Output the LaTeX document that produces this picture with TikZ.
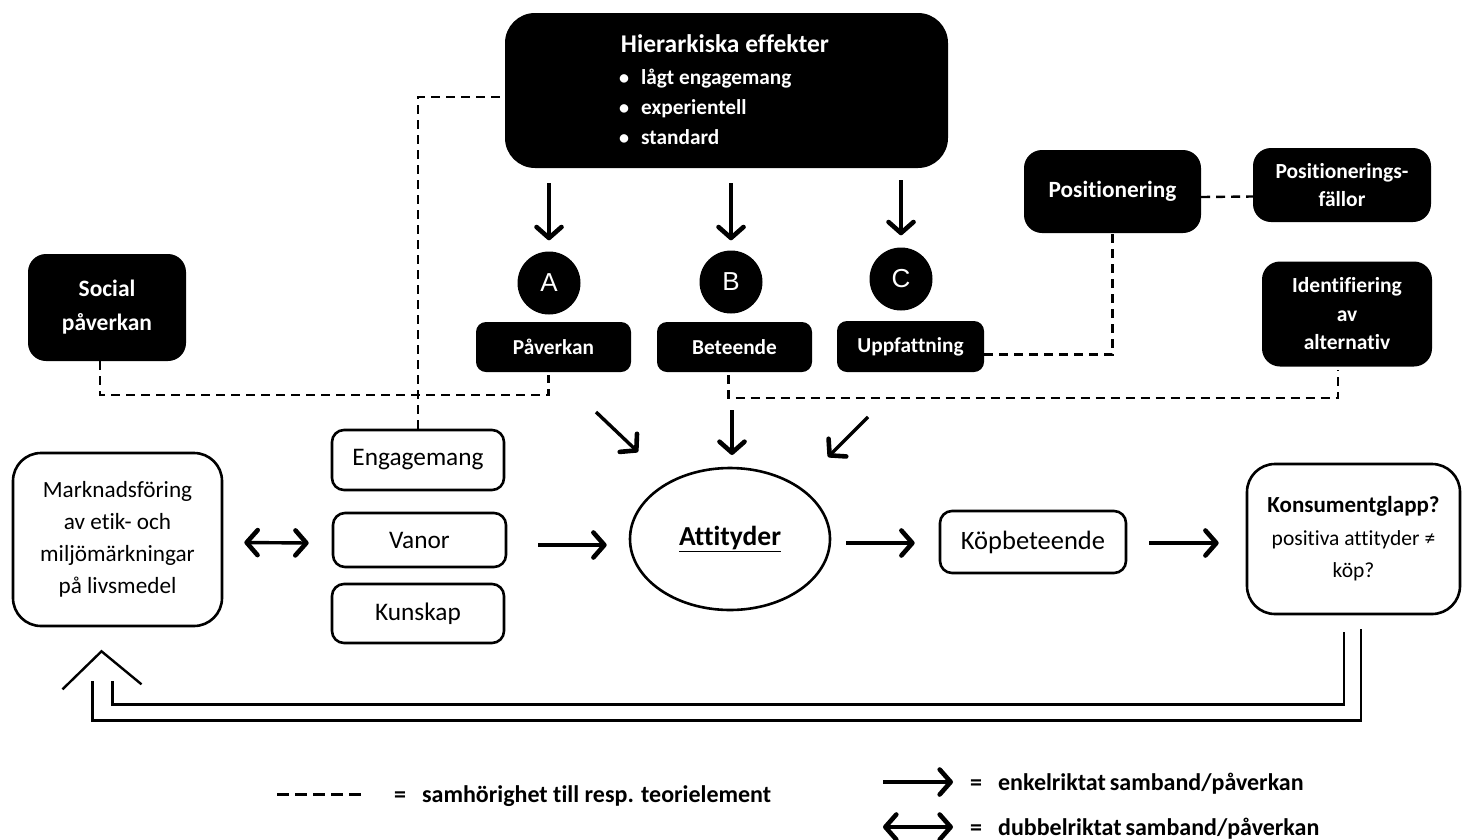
\documentclass[tikz,border=0pt]{standalone}
\usepackage{fontspec}
\setmainfont{Carlito}[Ligatures={TeX,NoCommon}]
\newfontfamily\arialfont{Liberation Sans}
\usetikzlibrary{arrows.meta,calc,shapes.geometric}
\newcommand{\setfs}[2]{\fontsize{#1}{#2}\selectfont}
\newcommand{\tightwords}{\spaceskip=4pt\relax}

\begin{document}
\begin{tikzpicture}[x=1pt,y=-1pt,
  blk/.style={fill=black,text=white,rounded corners=18pt,align=center,inner sep=0pt,font=\bfseries\setfs{23.3}{29}},
  wbox/.style={draw,line width=2.6pt,rounded corners=12pt,align=center,inner sep=0pt,font=\setfs{25.3}{32}},
  circ/.style={circle,fill=black,text=white,minimum size=63pt,inner sep=0pt,font=\arialfont\setfs{26}{30}},
  dashline/.style={line width=2.4pt,dash pattern=on 9pt off 6pt},
  tipb/.tip={Straight Barb[length=11pt,width=25pt,line width=4.6pt,round]},
  arr/.style={line width=3.4pt,-tipb},
  darr/.style={line width=3.4pt,tipb-tipb},
  fb/.style={line width=2.4pt},
  legtext/.style={anchor=base west,inner sep=0pt,font=\bfseries\setfs{24}{28}}
]
\useasboundingbox (0,0) rectangle (1462,839);

% top block: hierarchical effects
\node[blk,rounded corners=30pt,minimum width=443pt,minimum height=155pt] (hier) at (726.5,90.5) {};
\node[anchor=base,inner sep=0pt,text=white,font=\bfseries\setfs{25.5}{30}] (hiert) at (725,52) {Hierarkiska effekter};
\node[anchor=base west,inner sep=0pt,text=white,font=\bfseries\setfs{21.3}{24}] (b1) at (619,84) {\makebox[22pt][l]{\setfs{20}{20}•}lågt engagemang};
\node[anchor=base west,inner sep=0pt,text=white,font=\bfseries\setfs{21.3}{24}] (b2) at (619,114) {\makebox[22pt][l]{\setfs{20}{20}•}experientell};
\node[anchor=base west,inner sep=0pt,text=white,font=\bfseries\setfs{21.3}{24}] (b3) at (619,144) {\makebox[22pt][l]{\setfs{20}{20}•}standard};

% A, B, C and their labels
\node[circ] (A) at (549,283) {A};
\node[circ] (B) at (731,282) {B};
\node[circ] (C) at (901,279) {C};
\node[blk,rounded corners=10pt,minimum width=155pt,minimum height=50pt,font=\bfseries\setfs{21.3}{25}] (pav) at (553.5,347) {Påverkan};
\node[blk,rounded corners=10pt,minimum width=155pt,minimum height=50pt,font=\bfseries\setfs{21.3}{25}] (bet) at (734.5,347) {Beteende};
\node[blk,rounded corners=10pt,minimum width=147pt,minimum height=51pt,font=\bfseries\setfs{21.3}{25}] (upp) at (910.5,346.5) {Uppfattning};

% side blocks
\node[blk,minimum width=158pt,minimum height=107pt,font=\bfseries\setfs{23.5}{34}] (social) at (107,307.5) {Social\\påverkan};
\node[blk,minimum width=177pt,minimum height=83pt] (pos) at (1112.5,191.5) {Positionering};
\node[blk,minimum width=178pt,minimum height=74pt,font=\bfseries\setfs{21.5}{28}] (fal) at (1342,185) {Positionerings-\\fällor};
\node[blk,minimum width=170pt,minimum height=105pt,font=\bfseries\setfs{21.5}{28.5}] (ident) at (1347,314) {Identifiering\\av\\alternativ};

% main row
\node[wbox,rounded corners=28pt,minimum width=209pt,minimum height=173pt,font=\setfs{23.2}{32}] (mark) at (117.5,539.5) {Marknadsföring\\av etik- och\\miljömärkningar\\på livsmedel};
\node[wbox,minimum width=172pt,minimum height=60pt] (eng) at (418,460) {Engagemang};
\node[wbox,minimum width=173pt,minimum height=54pt] (vanor) at (419.5,540) {Vanor};
\node[wbox,minimum width=172pt,minimum height=59pt] (kun) at (418,613.5) {Kunskap};
\node[ellipse,draw,line width=2.6pt,minimum width=200pt,minimum height=142pt,inner sep=0pt,font=\bfseries\setfs{27.5}{30}] (att) at (730,539) {\underline{Attityder}};
\node[wbox,minimum width=186pt,minimum height=62pt,font=\setfs{26.5}{32}] (kop) at (1033,542) {Köpbeteende};
\node[wbox,rounded corners=28pt,minimum width=213pt,minimum height=150pt,font=\setfs{21.5}{32.5}] (kon) at (1353.5,539) {\textbf{\setfs{23}{32.5}Konsumentglapp?}\\positiva attityder ≠\\köp?};

% arrows from the top block
\draw[arr] ($(hier.south -| A.north)+(0,15)$) -- ($(A.north)+(0,-11)$);
\draw[arr] ($(hier.south -| B.north)+(0,15)$) -- ($(B.north)+(0,-10)$);
\draw[arr] ($(hier.south -| C.north)+(0,12)$) -- ($(C.north)+(0,-12)$);

% arrows into the attitudes
\draw[arr] ($(att.center)+(-134,-127)$) -- ($(att.center)+(-92,-87)$);
\draw[arr] ($(att.center)+(2,-129)$) -- ($(att.center)+(2,-84)$);
\draw[arr] ($(att.center)+(138,-122)$) -- ($(att.center)+(98,-82)$);

% main row arrows
\draw[darr] ($(mark.east)+(21,3)$) -- ($(vanor.west)+(-23,3)$);
\draw[arr] ($(vanor.east)+(31,5)$) -- ($(att.west)+(-22,6)$);
\draw[arr] ($(att.east)+(15,4)$) -- ($(kop.west)+(-24,1)$);
\draw[arr] ($(kop.east)+(22,1)$) -- ($(kon.west)+(-27,4)$);

% dashed associations
\draw[dashline] ($(social.south)+(-7,0)$) -- ++(0,34) -| ($(pav.south)+(-5,3)$);
\draw[dashline] (eng.north) |- ($(hier.west)+(0,6.5)$);
\draw[dashline] ($(bet.south)+(-6,3)$) -- ++(0,23) -| ($(ident.south)+(-9,3)$);
\draw[dashline] ($(upp.east)+(0,8)$) -| (pos.south);
\draw[dashline] ($(pos.east)+(0,5.5)$) -- ($(fal.west)+(0,11.5)$);

% feedback loop back to marketing
\coordinate (tip) at ($(mark.south)+(-16,24)$);
\draw[fb] ($(kon.south)+(-9.5,17)$) |- ($(tip)+(11,53)$) -- ($(tip)+(11,30)$);
\draw[fb] ($(kon.south)+(7.5,14)$) |- ($(tip)+(-9,69)$) -- ($(tip)+(-9,30)$);
\draw[fb] ($(tip)+(-39,38)$) -- (tip) -- ($(tip)+(40,33)$);

% legend
\coordinate (l1a) at (277,794);
\coordinate (l1b) at (364,794);
\draw[line width=3pt,dash pattern=on 12pt off 6pt] (l1a) -- (l1b);
\node[legtext] (lt1) at (394,802) {=\hspace{16pt}samhörighet till resp. teorielement};
\coordinate (l2a) at (883,782);
\coordinate (l2b) at (953,782);
\draw[arr] (l2a) -- (l2b);
\node[legtext] (lt2) at (970,790) {\tightwords =\hspace{16pt}enkelriktat samband/påverkan};
\coordinate (l3a) at (883,827);
\coordinate (l3b) at (953,827);
\draw[darr] (l3a) -- (l3b);
\node[legtext] (lt3) at (970,835) {\tightwords =\hspace{16pt}dubbelriktat samband/påverkan};
\end{tikzpicture}
\end{document}
